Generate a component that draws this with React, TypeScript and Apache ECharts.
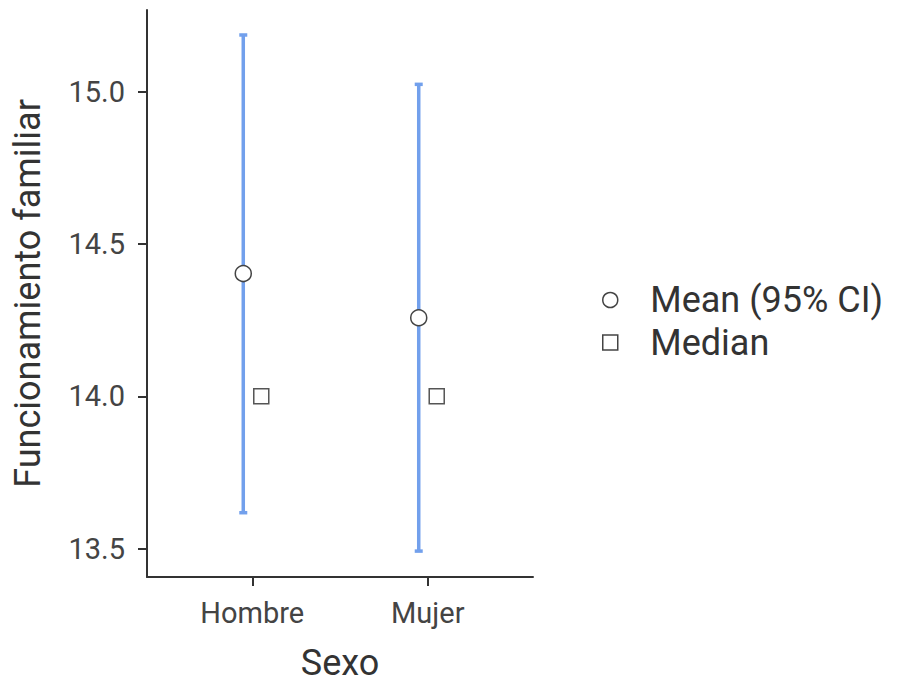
import React, { useEffect, useRef } from "react";
import * as echarts from "echarts";

const categories = ["Hombre", "Mujer"];
const meanValues = [14.403, 14.258];
const ciLower = [13.618, 13.492];
const ciUpper = [15.186, 15.024];
const medianValues = [14.0, 14.0];
const yTicks = [13.5, 14.0, 14.5, 15.0];

const FONT = "Roboto, 'Noto Sans', sans-serif";
const BLUE = "#72a0ec";

export default function App() {
  const ref = useRef<HTMLDivElement>(null);
  useEffect(() => {
    const chart = echarts.init(ref.current!, null, { renderer: "svg" });
    const xPos = categories.map((_, i) => i + 1);
    chart.setOption({
      animation: false,
      textStyle: { fontFamily: FONT },
      grid: { left: 147, top: 10, right: 372, bottom: 112, containLabel: false },
      xAxis: {
        type: "value",
        min: 0.4,
        max: 2.6,
        name: "Sexo",
        nameLocation: "middle",
        nameGap: 68,
        nameTextStyle: { fontSize: 36, color: "#333", fontFamily: FONT },
        axisLine: { show: true, onZero: false, lineStyle: { color: "#333", width: 2 } },
        axisTick: { show: true, customValues: xPos, length: 9, lineStyle: { color: "#333", width: 2 } },
        axisLabel: {
          customValues: xPos,
          formatter: (v: number) => categories[Math.round(v) - 1] ?? "",
          fontSize: 29,
          color: "#444",
          margin: 21,
          fontFamily: FONT,
        },
        splitLine: { show: false },
      },
      yAxis: {
        type: "value",
        min: 13.407,
        max: 15.268,
        name: "Funcionamiento familiar",
        nameLocation: "middle",
        nameGap: 101,
        nameTextStyle: { fontSize: 36, color: "#333", fontFamily: FONT },
        axisLine: { show: true, onZero: false, lineStyle: { color: "#333", width: 2 } },
        axisTick: { show: true, customValues: yTicks, length: 9, lineStyle: { color: "#333", width: 2 } },
        axisLabel: {
          customValues: yTicks,
          formatter: (v: number) => v.toFixed(1),
          fontSize: 29,
          color: "#444",
          margin: 22,
          fontFamily: FONT,
        },
        splitLine: { show: false },
      },
      legend: {
        orient: "vertical",
        left: 597,
        top: 277,
        itemWidth: 70,
        itemHeight: 15,
        itemGap: 6.5,
        textStyle: { fontSize: 36, lineHeight: 36, color: "#333", fontFamily: FONT },
        data: [
          {
            name: "Mean (95% CI)",
            icon: "circle",
            itemStyle: { color: "#fff", borderColor: "#444", borderWidth: 1.5 },
          },
          {
            name: "Median",
            icon: "path://M0,0L15,0L15,15L0,15Z",
            itemStyle: { color: "#fff", borderColor: "#444", borderWidth: 1.5 },
          },
        ],
      },
      series: [
        {
          type: "custom",
          name: "CI",
          silent: true,
          z: 2,
          data: xPos.map((x, i) => [x, ciLower[i], ciUpper[i]]),
          renderItem: (params: any, api: any) => {
            const x = api.value(0);
            const lo = api.coord([x, api.value(1)]);
            const hi = api.coord([x, api.value(2)]);
            const px = lo[0] - 9;
            const cap = 4;
            const style = { stroke: BLUE, lineWidth: 3.5 };
            return {
              type: "group",
              children: [
                { type: "line", shape: { x1: px, y1: lo[1], x2: px, y2: hi[1] }, style },
                { type: "line", shape: { x1: px - cap, y1: hi[1], x2: px + cap, y2: hi[1] }, style },
                { type: "line", shape: { x1: px - cap, y1: lo[1], x2: px + cap, y2: lo[1] }, style },
              ],
            };
          },
        },
        {
          type: "scatter",
          name: "Mean (95% CI)",
          z: 3,
          symbol: "circle",
          symbolSize: 16,
          symbolOffset: [-9, 0],
          itemStyle: { color: "#fff", borderColor: "#444", borderWidth: 1.5, opacity: 1 },
          data: xPos.map((x, i) => [x, meanValues[i]]),
        },
        {
          type: "scatter",
          name: "Median",
          z: 3,
          symbol: "rect",
          symbolSize: 15,
          symbolOffset: [9, 0],
          itemStyle: { color: "#fff", borderColor: "#555", borderWidth: 1.5, opacity: 1 },
          data: xPos.map((x, i) => [x, medianValues[i]]),
        },
      ],
    });
    return () => chart.dispose();
  }, []);
  return <div ref={ref} style={{ width: 905, height: 689, position: "absolute", left: 0, top: 0 }} />;
}
